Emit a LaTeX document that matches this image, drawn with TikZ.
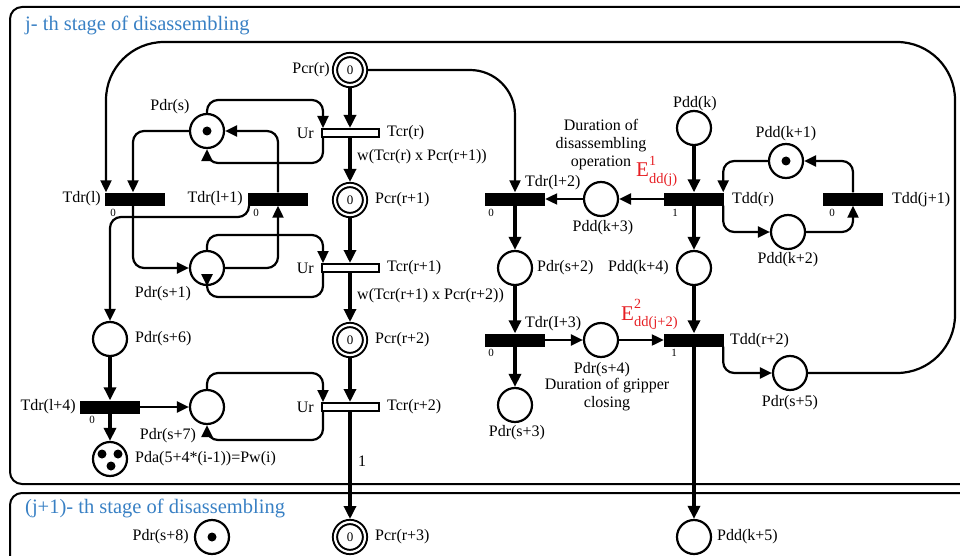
\documentclass[tikz,border=0pt]{standalone}
\usepackage{fontspec}
\setmainfont{Liberation Serif}
\usetikzlibrary{arrows.meta}
\definecolor{ttl}{RGB}{56,128,196}
\definecolor{ered}{RGB}{230,30,35}
\begin{document}
\begin{tikzpicture}[x=1pt,y=-1pt,
  every node/.style={font=\fontsize{16}{18}\selectfont, inner sep=0pt},
  place/.style={circle,draw,line width=2.2pt,minimum size=34pt,inner sep=0pt},
  dplace/.style={circle,draw,line width=2pt,double=white,double distance=2.2pt,minimum size=30pt,outer sep=3pt,font=\fontsize{13}{13}\selectfont},
  tok/.style={path picture={\fill (path picture bounding box.center) circle (4.5pt);}},
  tokthree/.style={path picture={
     \fill ([shift={(-8pt,5pt)}]path picture bounding box.center) circle (4.5pt);
     \fill ([shift={(8pt,5pt)}]path picture bounding box.center) circle (4.5pt);
     \fill ([shift={(1pt,-7pt)}]path picture bounding box.center) circle (4.5pt);}},
  bar/.style={rectangle,fill=black,minimum width=60pt,minimum height=13pt},
  obar/.style={rectangle,draw,fill=white,line width=2pt,minimum width=57pt,minimum height=8pt},
  sml/.style={font=\fontsize{11}{12}\selectfont},
  arc/.style={line width=2.2pt,-{Triangle[length=12pt,width=11pt]},rounded corners=11pt},
  marc/.style={line width=3.2pt,-{Triangle[length=13pt,width=12pt]}},
  ttlstyle/.style={text=ttl,font=\fontsize{20.5}{22}\selectfont},
  ]
\clip (0,0) rectangle (960,556);
\useasboundingbox (0,0) rectangle (960,556);
% stage frames
\draw[line width=2pt, rounded corners=12pt] (10,7) rectangle (990,484);
\draw[line width=2pt, rounded corners=12pt] (10,493) rectangle (990,620);
\node[ttlstyle, anchor=west] (t1) at (25,25) {j- th stage of disassembling};
\node[ttlstyle, anchor=west] (t2) at (25,508) {(j+1)- th stage of disassembling};

% central column
\node[dplace] (pcr0) at (350,70) {0};
\node[obar] (tcr0) at (350,133) {};
\node[dplace] (pcr1) at (350,200) {0};
\node[obar] (tcr1) at (350,268) {};
\node[dplace] (pcr2) at (350,340) {0};
\node[obar] (tcr2) at (350,407) {};
\node[dplace] (pcr3) at (350,537) {0};

% left part
\node[bar] (tdl) at (135,199) {};
\node[bar] (tdl1) at (278,199) {};
\node[place,tok] (ps) at (207,131) {};
\node[place] (ps1) at (207,268) {};
\node[place] (ps6) at (110,339) {};
\node[bar] (tdl4) at (110,407) {};
\node[place] (ps7) at (207,407) {};
\node[place,tokthree] (pda) at (110,459) {};
\node[place,tok] (ps8) at (212,537) {};

% right part
\node[bar] (tdl2) at (515,199) {};
\node[place] (pk3) at (601,199) {};
\node[bar] (tdr) at (694,199) {};
\node[place] (pk) at (694,128) {};
\node[place,tok] (pk1) at (786,161) {};
\node[bar] (tdj) at (853,199) {};
\node[place] (pk2) at (788,232) {};
\node[place] (pk4) at (694,268) {};
\node[place] (ps2) at (515,268) {};
\node[bar] (tdl3) at (515,340) {};
\node[place] (ps3) at (515,405) {};
\node[place] (ps4) at (601,340) {};
\node[bar] (tdr2) at (694,340) {};
\node[place] (ps5) at (790,373) {};
\node[place] (pk5) at (694,537) {};

% central arcs
\draw[marc] (pcr0) -- (tcr0);
\draw[marc] (tcr0) -- (pcr1);
\draw[marc] (pcr1) -- (tcr1);
\draw[marc] (tcr1) -- (pcr2);
\draw[marc] (pcr2) -- (tcr2);
\draw[marc] (tcr2) -- (pcr3);
\draw[arc,rounded corners=45pt] (pcr0.east) -| (tdl2.north);
% big loop
\draw[arc,rounded corners=58pt] (ps5.east) -- (955,373) -- (955,42) -- (106,42) -- ([xshift=-29pt]tdl.north);

% left arcs
\draw[arc] (ps.west) -| ([xshift=-2pt]tdl.north);
\draw[arc] (ps.north) |- (323,100) -- ([xshift=-27pt]tcr0.north);
\draw[arc] ([xshift=-27pt]tcr0.south) |- (250,163) -| (ps.south);
\draw[arc] (tdl1.north) |- (ps.east);
\draw[arc] (ps1.east) -| (tdl1.south);
\draw[arc] ([xshift=-2pt]tdl.south) |- (ps1.west);
\draw[arc] (ps1.north) |- (323,235) -- ([xshift=-27pt]tcr1.north);
\draw[arc] ([xshift=-27pt]tcr1.south) |- (250,297) -| (ps1.south);
\draw[arc] ([xshift=-29pt]tdl1.south) |- (160,217) -| (ps6.north);
\draw[marc] (ps6) -- (tdl4);
\draw[arc] (tdl4.east) -- (ps7.west);
\draw[marc] (tdl4) -- (pda);
\draw[arc] (ps7.north) |- (323,373) -- ([xshift=-27pt]tcr2.north);
\draw[arc] ([xshift=-27pt]tcr2.south) |- (250,440) -| (ps7.south);

% right arcs
\draw[marc] (pk) -- (tdr);
\draw[arc] (tdr.west) -- (pk3.east);
\draw[arc] (pk3.west) -- (tdl2.east);
\draw[marc] (tdr) -- (pk4);
\draw[marc] (tdl2) -- (ps2);
\draw[arc] (pk1.west) -| ([xshift=-1pt]tdr.north east);
\draw[arc] ([xshift=-1pt]tdr.south east) |- (pk2.west);
\draw[arc] (pk2.east) -| (tdj.south);
\draw[arc] (tdj.north) |- (pk1.east);
\draw[marc] (ps2) -- (tdl3);
\draw[marc] (tdl3) -- (ps3);
\draw[arc] (tdl3.east) -- (ps4.west);
\draw[arc] (ps4.east) -- (tdr2.west);
\draw[marc] (pk4) -- (tdr2);
\draw[arc] ([xshift=-1pt]tdr2.south east) |- (ps5.west);
\draw[marc] (tdr2) -- (pk5);

% labels centre
\node[anchor=east] (lpcr0) at (330,70) {Pcr(r)};
\node[anchor=east] (lu0) at (314,133) {Ur};
\node[anchor=west] (ltcr0) at (387,133) {Tcr(r)};
\node[anchor=west] (lw0) at (357,157) {w(Tcr(r) x Pcr(r+1))};
\node[anchor=west] (lpcr1) at (375,200) {Pcr(r+1)};
\node[anchor=east] (lu1) at (314,268) {Ur};
\node[anchor=west] (ltcr1) at (387,268) {Tcr(r+1)};
\node[anchor=west] (lw1) at (357,296) {w(Tcr(r+1) x Pcr(r+2))};
\node[anchor=west] (lpcr2) at (375,340) {Pcr(r+2)};
\node[anchor=east] (lu2) at (314,407) {Ur};
\node[anchor=west] (ltcr2) at (387,407) {Tcr(r+2)};
\node (lone) at (362,461) {1};
\node[anchor=west] (lpcr3) at (375,537) {Pcr(r+3)};
% labels left
\node[anchor=east] (ltdl) at (101,199) {Tdr(l)};
\node[anchor=east] (ltdl1) at (243,199) {Tdr(l+1)};
\node[sml] (za) at (113,213) {0};
\node[sml] (zb) at (256,213) {0};
\node (lps) at (170,107) {Pdr(s)};
\node (lps1) at (163,294) {Pdr(s+1)};
\node[anchor=west] (lps6) at (135,339) {Pdr(s+6)};
\node[anchor=east] (ltdl4) at (76,407) {Tdr(l+4)};
\node[sml] (zc) at (92,420) {0};
\node (lps7) at (168,436) {Pdr(s+7)};
\node[anchor=west] (lpda) at (135,459) {Pda(5+4*(i-1))=Pw(i)};
\node[anchor=east] (lps8) at (189,537) {Pdr(s+8)};
% labels right
\node[anchor=west] (ltdl2) at (525,183) {Tdr(l+2)};
\node[sml] (zd) at (491,213) {0};
\node (lpk3) at (603,228) {Pdd(k+3)};
\node[align=center] (ldur) at (601,145) {Duration of\\disassembling\\operation};
\node (lpk) at (695,104) {Pdd(k)};
\node (lpk1) at (786,134) {Pdd(k+1)};
\node[anchor=west] (ltdr) at (732,200) {Tdd(r)};
\node[sml] (ze) at (675,213) {1};
\node[sml] (zf) at (832,213) {0};
\node[anchor=west] (ltdj) at (892,200) {Tdd(j+1)};
\node (lpk2) at (788,260) {Pdd(k+2)};
\node[anchor=west] (lps2) at (537,268) {Pdr(s+2)};
\node[anchor=east] (lpk4) at (669,268) {Pdd(k+4)};
\node[anchor=west] (ltdl3) at (525,324) {Tdr(I+3)};
\node[sml] (zg) at (491,353) {0};
\node (lps3) at (517,433) {Pdr(s+3)};
\node (lps4) at (602,370) {Pdr(s+4)};
\node[align=center] (lgrip) at (607,395) {Duration of gripper\\closing};
\node[anchor=west] (ltdr2) at (730,341) {Tdd(r+2)};
\node[sml] (zh) at (674,353) {1};
\node (lps5) at (790,403) {Pdr(s+5)};
\node[anchor=west] (lpk5) at (717,537) {Pdd(k+5)};
% red annotations
\node[text=ered, anchor=base west, font=\fontsize{21}{21}\selectfont] (eone) at (636,177)
  {E\rlap{\raisebox{12pt}{\fontsize{14}{14}\selectfont 1}}\raisebox{-6pt}{\fontsize{14.5}{14.5}\selectfont dd(j)}};
\node[text=ered, anchor=base west, font=\fontsize{21}{21}\selectfont] (etwo) at (621,320)
  {E\rlap{\raisebox{12pt}{\fontsize{14}{14}\selectfont 2}}\raisebox{-6pt}{\fontsize{14.5}{14.5}\selectfont dd(j+2)}};
\end{tikzpicture}
\end{document}
